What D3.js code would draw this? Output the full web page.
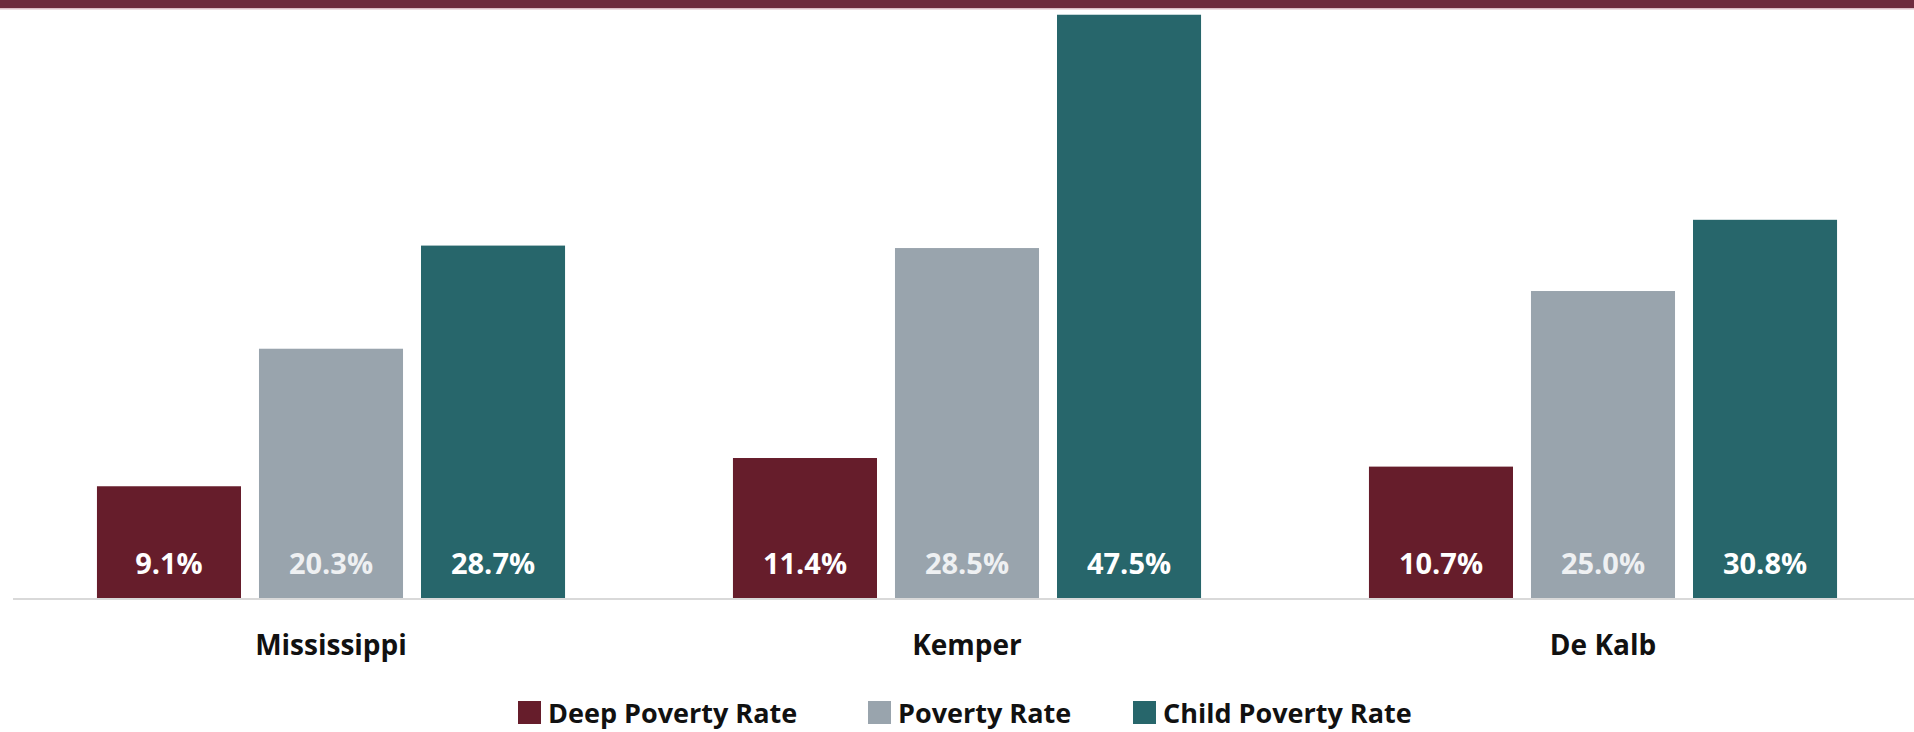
<!DOCTYPE html>
<html>
<head>
<meta charset="utf-8">
<script src="https://cdn.jsdelivr.net/npm/d3@7"></script>
<style>
  html, body { margin: 0; padding: 0; background: #fff; }
  svg { display: block; font-family: "Open Sans", "DejaVu Sans", sans-serif; }
</style>
</head>
<body>
<div id="chart"></div>
<script>
// data
const regions = ['Mississippi', 'Kemper', 'De Kalb'];
const seriesNames = ['Deep Poverty Rate', 'Poverty Rate', 'Child Poverty Rate'];
const deepPoverty = [9.1, 11.4, 10.7];
const poverty = [20.3, 28.5, 25.0];
const childPoverty = [28.7, 47.5, 30.8];
const colours = ['#661d2b', '#99a4ad', '#27666b'];

const width = 1914;
const height = 732;
const baseY = 598;

const rows = regions.map((r, i) => ({
  region: r,
  values: [deepPoverty[i], poverty[i], childPoverty[i]],
}));

const svg = d3.select('#chart').append('svg')
  .attr('width', width)
  .attr('height', height);

// maroon band along the top
svg.append('rect')
  .attr('x', 0).attr('y', 0)
  .attr('width', width).attr('height', 8)
  .attr('fill', '#6e2b3e');
svg.append('rect')
  .attr('x', 0).attr('y', 8)
  .attr('width', width).attr('height', 1.5)
  .attr('fill', '#dcbcc6');

const x0 = d3.scaleBand()
  .domain(regions)
  .range([13, 1921])
  .paddingInner(0.264)
  .paddingOuter(0.132);

const x1 = d3.scaleBand()
  .domain(seriesNames)
  .range([0, x0.bandwidth()])
  .paddingInner(0.111)
  .paddingOuter(0);

const y = d3.scaleLinear()
  .domain([0, 48.7])
  .range([baseY, 0]);

const colour = d3.scaleOrdinal().domain(seriesNames).range(colours);

const groups = svg.selectAll('.group')
  .data(rows)
  .join('g')
  .attr('class', 'group')
  .attr('transform', (d) => `translate(${x0(d.region)},0)`);

const bars = groups.selectAll('.bar')
  .data((d) => d.values.map((v, i) => ({ name: seriesNames[i], value: v })))
  .join('g')
  .attr('class', 'bar');

bars.append('rect')
  .attr('x', (d) => x1(d.name))
  .attr('y', (d) => y(d.value))
  .attr('width', x1.bandwidth())
  .attr('height', (d) => y(0) - y(d.value))
  .attr('fill', (d) => colour(d.name));

bars.append('text')
  .attr('x', (d) => x1(d.name) + x1.bandwidth() / 2)
  .attr('y', baseY - 24)
  .attr('text-anchor', 'middle')
  .attr('font-size', 29)
  .attr('font-weight', 700)
  .attr('fill', (d) => (d.name === 'Poverty Rate' ? '#eef0f2' : '#ffffff'))
  .text((d) => `${d.value.toFixed(1)}%`);

// baseline
svg.append('line')
  .attr('x1', 13).attr('x2', width)
  .attr('y1', baseY + 1).attr('y2', baseY + 1)
  .attr('stroke', '#d9d9d9')
  .attr('stroke-width', 2);

// category labels
svg.selectAll('.cat-label')
  .data(regions)
  .join('text')
  .attr('class', 'cat-label')
  .attr('x', (d) => x0(d) + x0.bandwidth() / 2)
  .attr('y', 655)
  .attr('text-anchor', 'middle')
  .attr('font-size', 28)
  .attr('font-weight', 700)
  .attr('fill', '#111')
  .text((d) => d);

// legend
const legendX = [518, 868, 1133];
const legend = svg.selectAll('.legend')
  .data(seriesNames)
  .join('g')
  .attr('class', 'legend')
  .attr('transform', (d, i) => `translate(${legendX[i]},701)`);

legend.append('rect')
  .attr('width', 23).attr('height', 23)
  .attr('fill', (d) => colour(d));

legend.append('text')
  .attr('x', 30)
  .attr('y', 22)
  .attr('font-size', 27)
  .attr('font-weight', 700)
  .attr('fill', '#111')
  .text((d) => d);
</script>
</body>
</html>
